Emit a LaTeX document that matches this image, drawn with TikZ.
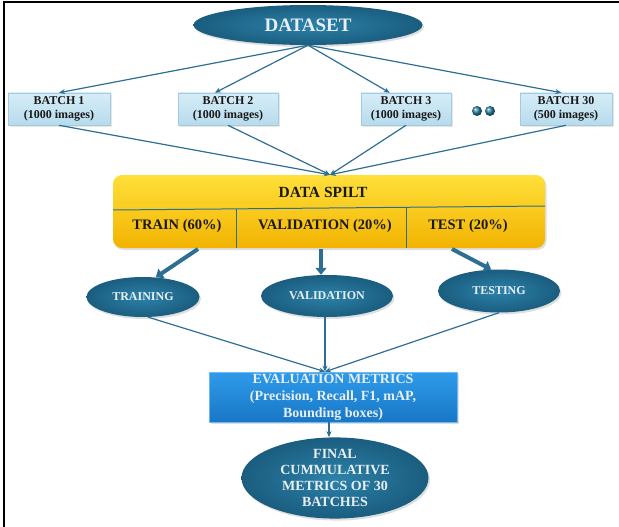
\documentclass[tikz,border=0pt]{standalone}
\usepackage{fontspec}
\setmainfont{Liberation Serif}
\usetikzlibrary{arrows.meta,shapes.geometric,calc,shadows}
\definecolor{ellin}{HTML}{2C82A9}
\definecolor{ellout}{HTML}{1A5D7F}
\definecolor{elltext}{HTML}{E9EFF5}
\definecolor{linec}{HTML}{2D6F94}
\definecolor{batchtop}{HTML}{D6EDF8}
\definecolor{batchbot}{HTML}{B7DBEC}
\definecolor{batchdraw}{HTML}{A3CCE0}
\definecolor{goldtop}{HTML}{FFE03A}
\definecolor{goldbot}{HTML}{F2B300}
\definecolor{evtop}{HTML}{2E9BEA}
\definecolor{evbot}{HTML}{1877C6}
\tikzset{
  ell/.style={ellipse, inner sep=0pt, inner color=ellin, outer color=ellout,
    text=elltext, align=center, font=\bfseries,
    drop shadow={opacity=0.25, shadow xshift=1.5pt, shadow yshift=-2pt}},
  batchbox/.style={rectangle, inner sep=0pt, minimum height=32pt,
    top color=batchtop, bottom color=batchbot, draw=batchdraw, line width=0.6pt,
    align=center, font=\fontsize{12}{14}\selectfont\bfseries, text=black!90,
    drop shadow={opacity=0.2, shadow xshift=1.5pt, shadow yshift=-1.5pt}},
  conn/.style={draw=linec, line width=1.2pt, -{Stealth[length=6pt,width=5pt]}},
  fatarrow/.style={draw=linec, line width=4pt, -{Triangle[length=7pt,width=11pt]}},
  divider/.style={draw=linec, line width=1pt},
  splittext/.style={font=\fontsize{14.5}{17}\selectfont\bfseries, text=black!90, inner sep=0pt},
}
\begin{document}
\begin{tikzpicture}[x=1pt,y=-1pt]
\useasboundingbox (0,0) rectangle (619,527);
% frame
\draw[line width=1.8pt, black] (4,527) -- (4,2) -- (619,2);

% dataset
\node[ell, minimum width=229pt, minimum height=40pt,
  font=\fontsize{19}{22}\selectfont\bfseries] (ds) at (308,25) {DATASET};

% batches
\node[batchbox, minimum width=102pt] (b1) at (59,109) {BATCH 1\\(1000 images)};
\node[batchbox, minimum width=100pt] (b2) at (228,109) {BATCH 2\\(1000 images)};
\node[batchbox, minimum width=90pt] (b3) at (406,109) {BATCH 3\\(1000 images)};
\node[batchbox, minimum width=92pt] (b30) at (566,109) {BATCH 30\\(500 images)};
\node[circle, inner sep=0pt, minimum size=10pt, ball color=ellin] (d1) at (477,111) {};
\node[circle, inner sep=0pt, minimum size=10pt, ball color=ellin] (d2) at (490,111) {};

% data split box
\node[rectangle, rounded corners=9pt, minimum width=432pt, minimum height=73pt,
  top color=goldtop, bottom color=goldbot, inner sep=0pt,
  drop shadow={opacity=0.25, shadow xshift=1.5pt, shadow yshift=-2pt}] (sp) at (329,211.5) {};
\draw[divider] (113,210) -- (545,206);
\draw[divider] (236,209) -- (236,248);
\draw[divider] (406,207) -- (406,248);
\node[splittext, font=\fontsize{15.5}{18}\selectfont\bfseries] (spt) at (323,192) {DATA SPILT};
\node[splittext] (tr) at (177,226) {TRAIN (60\%)};
\node[splittext] (va) at (325,226) {VALIDATION (20\%)};
\node[splittext] (tst) at (468,226) {TEST (20\%)};

% dataset -> batches
\draw[conn] (ds.south) -- (b1.north);
\draw[conn] (ds.south) -- ($(b2.north west)!0.37!(b2.north east)$);
\draw[conn] (ds.south) -- ($(b3.north west)!0.32!(b3.north east)$);
\draw[conn] (ds.south) -- ($(b30.north west)!0.45!(b30.north east)$);

% batches -> split
\coordinate (spin) at ($(sp.north)+(1,0)$);
\draw[conn] (b1.south) -- (spin);
\draw[conn] (b2.south) -- (spin);
\draw[conn] (b3.south) -- (spin);
\draw[conn] (b30.south) -- (spin);

% second-level ellipses
\node[ell, minimum width=113pt, minimum height=40pt,
  font=\fontsize{12}{14}\selectfont\bfseries] (tn) at (143,297) {TRAINING};
\node[ell, minimum width=132pt, minimum height=42pt,
  font=\fontsize{12}{14}\selectfont\bfseries] (vn) at (327,296) {VALIDATION};
\node[ell, minimum width=122pt, minimum height=43pt,
  font=\fontsize{12}{14}\selectfont\bfseries] (te) at (499,291) {TESTING};

% fat arrows
\coordinate (f1) at (198,249);
\coordinate (f2) at (321,249);
\coordinate (f3) at (452,249);
\draw[fatarrow] (f1) -- (tn.57);
\draw[fatarrow] (f2) -- (f2 |- vn.north);
\draw[fatarrow] (f3) -- (te.110);

% evaluation box
\node[rectangle, minimum width=248pt, minimum height=50pt, inner sep=0pt,
  top color=evtop, bottom color=evbot, draw=evtop!70!white, line width=0.6pt,
  text=elltext, align=center, font=\fontsize{14}{17}\selectfont\bfseries,
  drop shadow={opacity=0.25, shadow xshift=1.5pt, shadow yshift=-2pt}] (ev) at (333,397)
  {EVALUATION METRICS\\(Precision, Recall, F1, mAP,\\Bounding boxes)};

\coordinate (evin) at ($(ev.north)+(-8,0)$);
\draw[conn] (tn.-76) -- (evin);
\draw[conn] (vn.south -| evin) -- (evin);
\draw[conn] (te.south) -- (evin);

% final ellipse
\node[ell, minimum width=187pt, minimum height=65pt,
  font=\fontsize{14}{16}\selectfont\bfseries] (fe) at (335,478)
  {FINAL\\CUMMULATIVE\\METRICS OF 30\\BATCHES};
\coordinate (evout) at ($(ev.south)+(-4,0)$);
\draw[conn] (evout) -- (evout |- fe.north);
\end{tikzpicture}
\end{document}
